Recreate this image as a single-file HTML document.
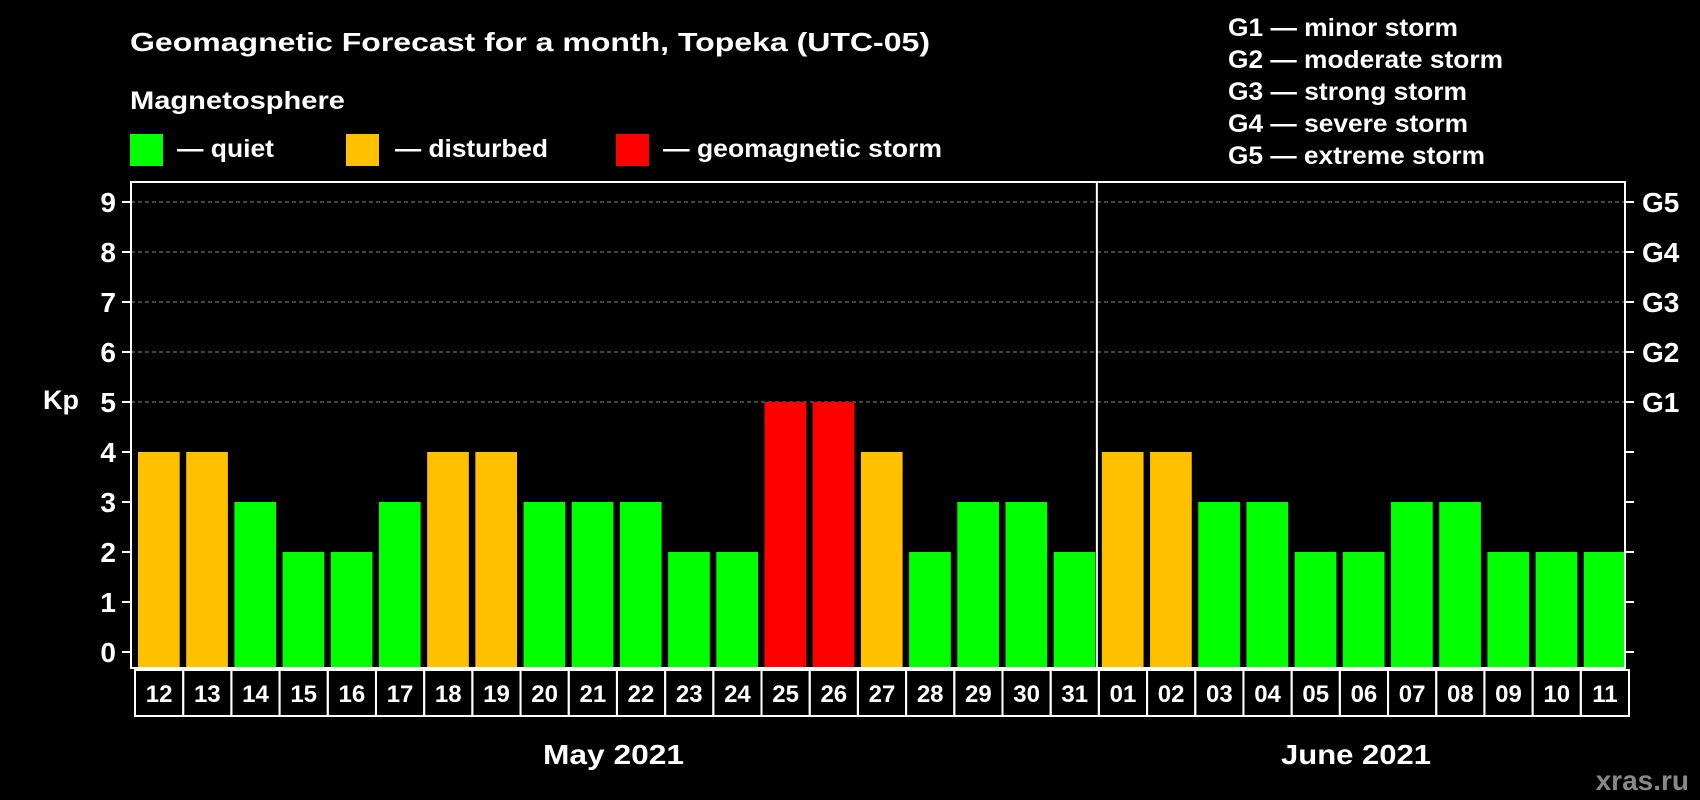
<!DOCTYPE html>
<html><head><meta charset="utf-8"><style>
html,body{margin:0;padding:0;background:#000;}
svg{display:block;font-family:"Liberation Sans",Arial,sans-serif;font-weight:bold;}
</style></head><body>
<svg id="c" width="1700" height="800" viewBox="0 0 1700 800">
<rect x="0" y="0" width="1700" height="800" fill="#000"/>
<text x="130" y="51" fill="#fff" font-size="26" textLength="800" lengthAdjust="spacingAndGlyphs">Geomagnetic Forecast for a month, Topeka (UTC-05)</text>
<text x="130" y="109" fill="#fff" font-size="25" textLength="215" lengthAdjust="spacingAndGlyphs">Magnetosphere</text>
<g><rect x="130" y="134" width="33" height="32" fill="#00ff00"/><text x="177" y="157" fill="#fff" font-size="25" textLength="97" lengthAdjust="spacingAndGlyphs">— quiet</text></g>
<g><rect x="346" y="134" width="33" height="32" fill="#ffc000"/><text x="395" y="157" fill="#fff" font-size="25" textLength="153" lengthAdjust="spacingAndGlyphs">— disturbed</text></g>
<g><rect x="616" y="134" width="33" height="32" fill="#ff0000"/><text x="663" y="157" fill="#fff" font-size="25" textLength="279" lengthAdjust="spacingAndGlyphs">— geomagnetic storm</text></g>
<g fill="#fff" font-size="25">
<text x="1228" y="36" textLength="230" lengthAdjust="spacingAndGlyphs">G1 — minor storm</text>
<text x="1228" y="68" textLength="275" lengthAdjust="spacingAndGlyphs">G2 — moderate storm</text>
<text x="1228" y="100" textLength="239" lengthAdjust="spacingAndGlyphs">G3 — strong storm</text>
<text x="1228" y="132" textLength="240" lengthAdjust="spacingAndGlyphs">G4 — severe storm</text>
<text x="1228" y="164" textLength="257" lengthAdjust="spacingAndGlyphs">G5 — extreme storm</text>
</g>
<text x="43" y="409" fill="#fff" font-size="27">Kp</text>
<text x="543" y="764" fill="#fff" font-size="28" textLength="141" lengthAdjust="spacingAndGlyphs">May 2021</text>
<text x="1281" y="764" fill="#fff" font-size="28" textLength="150" lengthAdjust="spacingAndGlyphs">June 2021</text>
<text x="1689" y="790" fill="#888" font-size="28" text-anchor="end">xras.ru</text>
<g id="plot"></g>
</svg>
<script>
const days = ["12","13","14","15","16","17","18","19","20","21","22","23","24","25","26","27","28","29","30","31","01","02","03","04","05","06","07","08","09","10","11"];
const kpValues = [4,4,3,2,2,3,4,4,3,3,3,2,2,5,5,4,2,3,3,2,4,4,3,3,2,2,3,3,2,2,2];
const yTicks = [0,1,2,3,4,5,6,7,8,9];
const gLabels = ["G1","G2","G3","G4","G5"];
const gLevels = [5,6,7,8,9];
const monthSplit = 20;

const NS = "http://www.w3.org/2000/svg";
const g = document.getElementById("plot");
const L = 131, R = 1625, T = 182, B = 668;
const step = (R - L) / days.length;
const y = v => 652 - v * 50;
const x = i => L + i * step;
function mk(tag, a) { const e = document.createElementNS(NS, tag); for (const k in a) e.setAttribute(k, a[k]); g.appendChild(e); return e; }
function col(v) { return v >= 5 ? "#ff0000" : v >= 4 ? "#ffc000" : "#00ff00"; }

yTicks.forEach(t => {
  if (t >= 5) {
    const gl = mk("line", {x1: L, x2: R, y1: y(t), y2: y(t), stroke: "#888", "stroke-width": 1, "stroke-dasharray": "4,3"});
    
    
  }
  const tk = mk("line", {x1: L - 9, x2: L, y1: y(t), y2: y(t), stroke: "#fff", "stroke-width": 2});
  
  
  const tr = mk("line", {x1: R, x2: R + 9, y1: y(t), y2: y(t), stroke: "#fff", "stroke-width": 2});
  
  
  const lb = mk("text", {x: 116, y: y(t) + 10, fill: "#fff", "font-size": 28, "text-anchor": "end"});
  lb.textContent = t;
  
  
});
gLabels.forEach((s, i) => {
  const lb = mk("text", {x: 1642, y: y(gLevels[i]) + 10, fill: "#fff", "font-size": 28});
  lb.textContent = s;
  
  
});
kpValues.forEach((v, i) => {
  const b = mk("rect", {x: x(i) + 7, y: y(v), width: step - 6.5, height: B - y(v), fill: col(v)});
  
  
  const bx = mk("rect", {x: x(i) + 4, y: 670, width: step, height: 46, fill: "none", stroke: "#fff", "stroke-width": 2});
  
  
  const t = mk("text", {x: x(i) + 4 + step / 2, y: 702, fill: "#fff", "font-size": 24, "text-anchor": "middle"});
  t.textContent = days[i];
  
  
});
const fr = mk("rect", {x: L, y: T, width: R - L, height: B - T, fill: "none", stroke: "#fff", "stroke-width": 2});


const dv = mk("line", {x1: x(monthSplit) + 2, x2: x(monthSplit) + 2, y1: T, y2: B, stroke: "#fff", "stroke-width": 2});


</script>
</body></html>
